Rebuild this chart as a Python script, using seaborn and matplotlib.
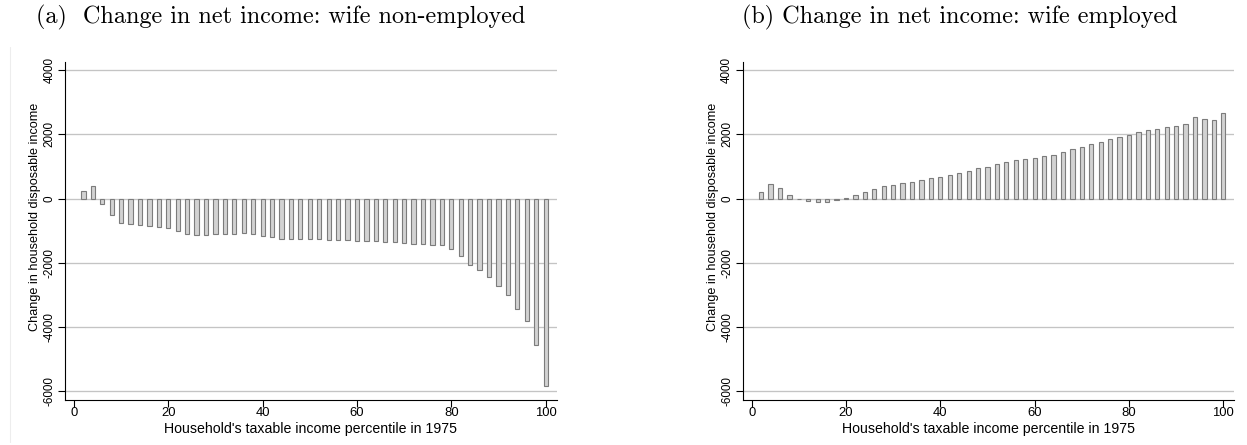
import numpy as np
import pandas as pd
import matplotlib
matplotlib.use("Agg")
import matplotlib.pyplot as plt
from matplotlib.lines import Line2D
import seaborn as sns

# ---------------- data ----------------
percentiles = [2, 4, 6, 8, 10, 12, 14, 16, 18, 20,
               22, 24, 26, 28, 30, 32, 34, 36, 38, 40,
               42, 44, 46, 48, 50, 52, 54, 56, 58, 60,
               62, 64, 66, 68, 70, 72, 74, 76, 78, 80,
               82, 84, 86, 88, 90, 92, 94, 96, 98, 100]

change_nonemployed = [250, 395, -156, -520, -750, -800, -830, -865, -895, -925,
                      -1020, -1100, -1145, -1135, -1110, -1110, -1090, -1080, -1100, -1155,
                      -1195, -1255, -1250, -1245, -1255, -1270, -1275, -1290, -1300, -1320,
                      -1320, -1335, -1350, -1360, -1380, -1400, -1425, -1440, -1460, -1585,
                      -1795, -2055, -2240, -2450, -2730, -2990, -3435, -3820, -4550, -5840]

change_employed = [198, 469, 323, 104, -10, -73, -115, -104, -31, 10,
                   104, 198, 292, 385, 417, 500, 531, 573, 635, 677,
                   729, 813, 865, 948, 1000, 1073, 1136, 1198, 1230, 1282,
                   1323, 1355, 1440, 1537, 1620, 1698, 1761, 1870, 1917, 1980,
                   2074, 2136, 2167, 2219, 2250, 2323, 2542, 2480, 2459, 2667]

titles = ["(a)  Change in net income: wife non-employed",
          "(b) Change in net income: wife employed"]
xlabel = "Household's taxable income percentile in 1975"
ylabel = "Change in household disposable income"
xticks = [0, 20, 40, 60, 80, 100]
yticks = [-6000, -4000, -2000, 0, 2000, 4000]

# ---------------- style ----------------
sns.set_theme(style="white")
plt.rcParams["font.family"] = ["Liberation Sans", "DejaVu Sans"]

W, H = 1247, 445
fig = plt.figure(figsize=(W / 100, H / 100), dpi=100)

ax_top_px, ax_bot_px = 61.7, 400.0
axes_left_px = [65.0, 742.7]
ax_w_px = 491.5

bar_face = "#d2d2d2"
bar_edge = "#7c7c7c"
grid_col = "#c4c4c4"

series = [change_nonemployed, change_employed]
title_x_px = [36.0, 741.7]

axes = []
for i in range(2):
    ax = fig.add_axes([axes_left_px[i] / W, 1 - ax_bot_px / H,
                       ax_w_px / W, (ax_bot_px - ax_top_px) / H])
    df = pd.DataFrame({"pct": percentiles, "chg": series[i]})
    for yv in yticks:
        ax.axhline(yv, color=grid_col, lw=0.95, zorder=0)
    sns.barplot(data=df, x="pct", y="chg", native_scale=True, width=0.45,
                color=bar_face, edgecolor=bar_edge, linewidth=0.8,
                saturation=1, errorbar=None, ax=ax, zorder=2)
    ax.set_xlim(-1.9, 102.3)
    ax.set_ylim(-6280, 4270)
    ax.set_xticks(xticks)
    ax.set_xticklabels([str(t) for t in xticks], fontsize=9.4)
    ax.set_yticks(yticks)
    ax.set_yticklabels([str(t) for t in yticks], fontsize=8.4,
                       rotation=90, va="center")
    ax.tick_params(axis="both", direction="out", length=4.7, width=0.8,
                   color="black", labelcolor="black", bottom=True, left=True)
    ax.tick_params(axis="x", pad=0.3)
    ax.tick_params(axis="y", pad=2.2)
    for s in ["top", "right"]:
        ax.spines[s].set_visible(False)
    for s in ["left", "bottom"]:
        ax.spines[s].set_visible(True)
        ax.spines[s].set_color("black")
        ax.spines[s].set_linewidth(0.8)
    ax.grid(False)
    ax.set_xlabel(xlabel, fontsize=10.2, color="black")
    ax.set_ylabel(ylabel, fontsize=9.1, color="black", va="center")
    ax.xaxis.set_label_coords(0.5, -(422.5 - ax_bot_px) / (ax_bot_px - ax_top_px))
    ax.yaxis.set_label_coords(-30.0 / ax_w_px, (ax_bot_px - 216.5) / (ax_bot_px - ax_top_px))
    ax.set_facecolor("white")
    axes.append(ax)

# titles (serif, LaTeX-like)
title_objs = []
for i in range(2):
    t = fig.text(title_x_px[i] / W, 1 - 23.0 / H, titles[i],
                 family=["cmr10", "DejaVu Serif"], fontsize=13,
                 ha="left", va="baseline", color="black")
    title_objs.append(t)

# fit text sizes to the reference extents
fig.canvas.draw()
r = fig.canvas.get_renderer()
bb = title_objs[0].get_window_extent(r)
scale = 490.0 / bb.width
for t in title_objs:
    t.set_fontsize(13 * scale)
for ax in axes:
    xl = ax.xaxis.label
    bbx = xl.get_window_extent(r)
    xl.set_fontsize(xl.get_fontsize() * 292.0 / bbx.width)
    yl = ax.yaxis.label
    bby = yl.get_window_extent(r)
    yl.set_fontsize(yl.get_fontsize() * 227.0 / bby.height)

# faint outer region border of the left graph
fig.add_artist(Line2D([10.0 / W, 10.0 / W], [1 - 47.0 / H, 1 - 442.0 / H],
                      color="#ededed", lw=0.8, transform=fig.transFigure))

fig.savefig("out.png", dpi=100, facecolor="white")
